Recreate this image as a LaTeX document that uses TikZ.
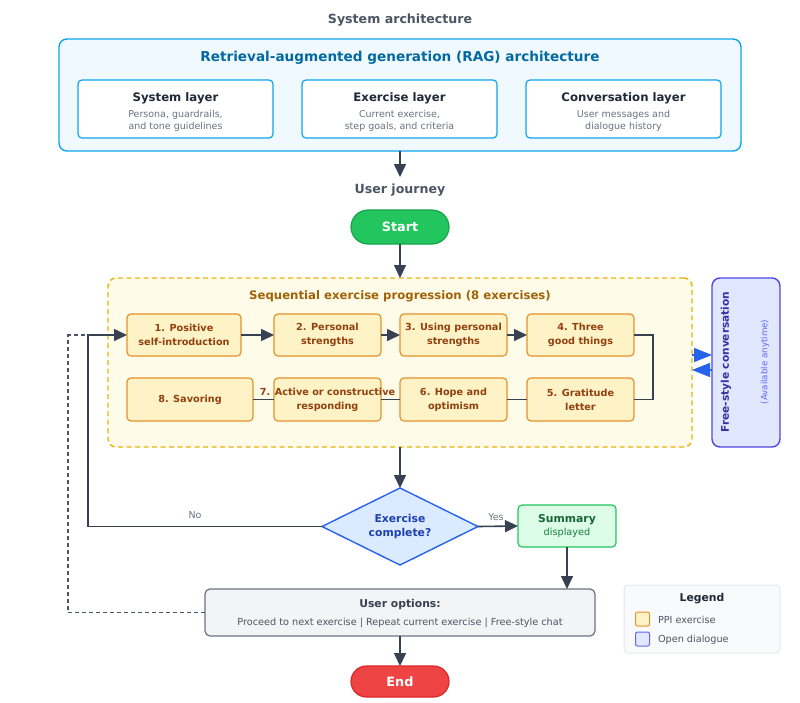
\documentclass[tikz,border=0pt]{standalone}
\usepackage{fontspec}
\setmainfont{DejaVu Sans}
\usetikzlibrary{arrows.meta,shapes.geometric,calc}
\definecolor{sky}{HTML}{0EA5E9}
\definecolor{skyfill}{HTML}{F0F9FF}
\definecolor{skytext}{HTML}{0369A1}
\definecolor{darktext}{HTML}{1F2937}
\definecolor{graytext}{HTML}{6B7280}
\definecolor{headtext}{HTML}{4B5563}
\definecolor{arrowc}{HTML}{374151}
\definecolor{startfill}{HTML}{22C55E}
\definecolor{startdraw}{HTML}{16A34A}
\definecolor{contfill}{HTML}{FEFBE8}
\definecolor{contdraw}{HTML}{EAB308}
\definecolor{conttext}{HTML}{A16207}
\definecolor{exfill}{HTML}{FEF3C7}
\definecolor{exdraw}{HTML}{E8912A}
\definecolor{extext}{HTML}{92400E}
\definecolor{indfill}{HTML}{E0E7FF}
\definecolor{inddraw}{HTML}{4F46E5}
\definecolor{indtext}{HTML}{3730A3}
\definecolor{indsub}{HTML}{6366F1}
\definecolor{blueA}{HTML}{2563EB}
\definecolor{diafill}{HTML}{DBEAFE}
\definecolor{diatext}{HTML}{1E40AF}
\definecolor{sumfill}{HTML}{DCFCE7}
\definecolor{sumdraw}{HTML}{22C55E}
\definecolor{sumtext}{HTML}{166534}
\definecolor{sumsub}{HTML}{15803D}
\definecolor{uofill}{HTML}{F3F4F6}
\definecolor{endfill}{HTML}{EF4444}
\definecolor{enddraw}{HTML}{DC2626}
\definecolor{legfill}{HTML}{F9FAFB}
\definecolor{legdraw}{HTML}{E5E7EB}
\tikzset{
  every node/.style={inner sep=0pt, outer sep=0pt},
  arr/.style={draw=arrowc, line width=1.6pt, -{Triangle[length=13pt,width=12pt]}},
  plainline/.style={draw=arrowc, line width=1.6pt},
  layerbox/.style={draw=sky, fill=white, line width=1.2pt, rounded corners=4pt, minimum width=195pt, minimum height=58pt, align=center},
  exbox/.style={draw=exdraw, fill=exfill, line width=1.2pt, rounded corners=4pt, minimum height=42pt, align=center, text=extext, font=\bfseries\fontsize{9.7}{14}\selectfont},
  pill/.style={line width=1.2pt, rounded corners=16pt, minimum width=98pt, text=white, font=\bfseries\fontsize{12.8}{15}\selectfont},
  heading/.style={text=headtext, font=\bfseries\fontsize{12.6}{15}\selectfont},
  swatch/.style={line width=1pt, rounded corners=2pt, minimum width=14pt, minimum height=14pt},
  smallgray/.style={text=graytext, font=\fontsize{9.5}{11}\selectfont},
}
\begin{document}
\begin{tikzpicture}[x=1pt,y=-1pt]
\useasboundingbox (0,0) rectangle (800,702);
% title
\node[heading] (systitle) at (400,20) {System architecture};
% RAG box
\node[draw=sky, fill=skyfill, line width=1.4pt, rounded corners=8pt, minimum width=682pt, minimum height=112pt] (rag) at (400,95) {};
\node[text=skytext, font=\bfseries\fontsize{13.6}{16}\selectfont] (ragtitle) at (400,58) {Retrieval-augmented generation (RAG) architecture};
\node[layerbox] (sys) at (175.5,109) {};
\node[layerbox] (exl) at (399.5,109) {};
\node[layerbox] (conv) at (623.5,109) {};
\foreach \n/\t/\a/\b in {sys/System layer/{Persona, guardrails,}/and tone guidelines, exl/Exercise layer/{Current exercise,}/{step goals, and criteria}, conv/Conversation layer/User messages and/dialogue history}{
  \node[text=darktext, font=\bfseries\fontsize{11.7}{14}\selectfont] at ([yshift=10.5pt]\n.center) {\t};
  \node[text=graytext, font=\fontsize{9.5}{12}\selectfont, align=center] at ([yshift=-11.5pt]\n.center) {\a\\\b};
}
\draw[arr] (rag.south) -- (400,177);
\node[heading] (uj) at (400,190) {User journey};
% start
\node[pill, draw=startdraw, fill=startfill, minimum height=34pt, rounded corners=17pt] (start) at (400,227) {Start};
% container
\node[draw=contdraw, fill=contfill, line width=1.4pt, dashed, dash pattern=on 5pt off 3.5pt, rounded corners=8pt, minimum width=584pt, minimum height=169pt] (cont) at (400,362.5) {};
\draw[arr] (start.south) -- (cont.north);
\node[text=conttext, font=\bfseries\fontsize{11.7}{14}\selectfont] (conttitle) at (400,296) {Sequential exercise progression (8 exercises)};
% exercises
\node[exbox, minimum width=114pt] (ex1) at (184,335) {1. Positive\\self-introduction};
\node[exbox, minimum width=107pt] (ex2) at (327.5,335) {2. Personal\\strengths};
\node[exbox, minimum width=107pt] (ex3) at (453.5,335) {3. Using personal\\strengths};
\node[exbox, minimum width=107pt] (ex4) at (580.5,335) {4. Three\\good things};
\node[exbox, minimum width=126pt, minimum height=43pt] (ex8) at (190,399.5) {8. Savoring};
\node[exbox, minimum width=107pt, minimum height=43pt] (ex7) at (327.5,399.5) {};
\node[exbox, minimum width=107pt, minimum height=43pt] (ex6) at (453.5,399.5) {6. Hope and\\optimism};
\node[exbox, minimum width=107pt, minimum height=43pt] (ex5) at (580.5,399.5) {5. Gratitude\\letter};
\draw[arr] (ex1.east) -- (ex2.west);
\draw[arr] (ex2.east) -- (ex3.west);
\draw[arr] (ex3.east) -- (ex4.west);
\draw[plainline] (ex4.east) -- ++(19,0) |- (ex5.east);
\draw[plainline] (ex5.west) -- (ex6.east);
\draw[plainline] (ex6.west) -- (ex7.east);
\draw[plainline] (ex7.west) -- (ex8.east);
\node[text=extext, font=\bfseries\fontsize{9.7}{14}\selectfont, align=center] (ex7t) at (ex7.center) {7. Active or constructive\\responding};
% free-style
\node[draw=inddraw, fill=indfill, line width=1.4pt, rounded corners=8pt, minimum width=68pt, minimum height=169pt] (free) at (746,362.5) {};
\node[rotate=90, text=indtext, font=\bfseries\fontsize{10.6}{12}\selectfont] (freet) at (726,362) {Free-style conversation};
\node[rotate=90, text=indsub, font=\fontsize{8.7}{10}\selectfont] (frees) at (765,362) {(Available anytime)};
\draw[draw=blueA, line width=1.2pt, -{Triangle[length=18pt,width=14pt]}] ([yshift=7.5pt]cont.east) -- ([yshift=7.5pt]free.west);
\draw[draw=blueA, line width=1.2pt, -{Triangle[length=18pt,width=14pt]}] ([yshift=-7.5pt]free.west) -- ([yshift=-7.5pt]cont.east);
% diamond
\node[diamond, draw=blueA, fill=diafill, line width=1.4pt, minimum width=156pt, minimum height=77pt, aspect=2, align=center, text=diatext, font=\bfseries\fontsize{10.8}{14}\selectfont] (dia) at (400,526.5) {Exercise\\complete?};
\draw[arr] (cont.south) -- (dia.north);
% summary
\node[draw=sumdraw, fill=sumfill, line width=1.2pt, rounded corners=4pt, minimum width=98pt, minimum height=42pt, align=center] (sum) at (567,526) {{\color{sumtext}\bfseries\fontsize{10.8}{13}\selectfont Summary}\\[1pt]{\color{sumsub}\fontsize{9.7}{12}\selectfont displayed}};
\draw[arr] (dia.east) -- (sum.west) node[pos=0.45, above=6pt, smallgray] (yes) {Yes};
% no path
\coordinate (noX) at (88,0);
\coordinate (dashX) at (68,0);
\draw[arr] (dia.west) -| (noX |- ex1.west) -- (ex1.west);
\node[smallgray] (no) at (195,515) {No};
% user options
\node[draw=graytext, fill=uofill, line width=1.2pt, rounded corners=5pt, minimum width=390pt, minimum height=47pt] (uo) at (400,612.5) {};
\node[text=arrowc, font=\bfseries\fontsize{10.8}{13}\selectfont] (uot) at (400,605) {User options:};
\node[text=headtext, font=\fontsize{9.7}{12}\selectfont] (uos) at (400,622.5) {Proceed to next exercise | Repeat current exercise | Free-style chat};
\draw[arr] (sum.south) -- (sum.south |- uo.north);
\draw[draw=headtext, line width=1.2pt, dashed, dash pattern=on 4pt off 3pt] (uo.west) -| (dashX |- ex1.west) -- (noX |- ex1.west);
% end
\node[pill, draw=enddraw, fill=endfill, minimum height=31pt, rounded corners=15.5pt] (end) at (400,681.5) {End};
\draw[arr] (uo.south) -- (end.north);
% legend
\node[draw=legdraw, fill=legfill, line width=1pt, rounded corners=4pt, minimum width=156pt, minimum height=68pt] (leg) at (702,619) {};
\node[text=darktext, font=\bfseries\fontsize{10.8}{13}\selectfont] (legt) at (702,599) {Legend};
\node[swatch, draw=exdraw, fill=exfill] (sw1) at (642.5,619) {};
\node[swatch, draw=indsub, fill=indfill] (sw2) at (642.5,639) {};
\node[anchor=west, text=headtext, font=\fontsize{9.7}{12}\selectfont] (l1) at (658,620) {PPI exercise};
\node[anchor=west, text=headtext, font=\fontsize{9.7}{12}\selectfont] (l2) at (658,640) {Open dialogue};
\end{tikzpicture}
\end{document}
